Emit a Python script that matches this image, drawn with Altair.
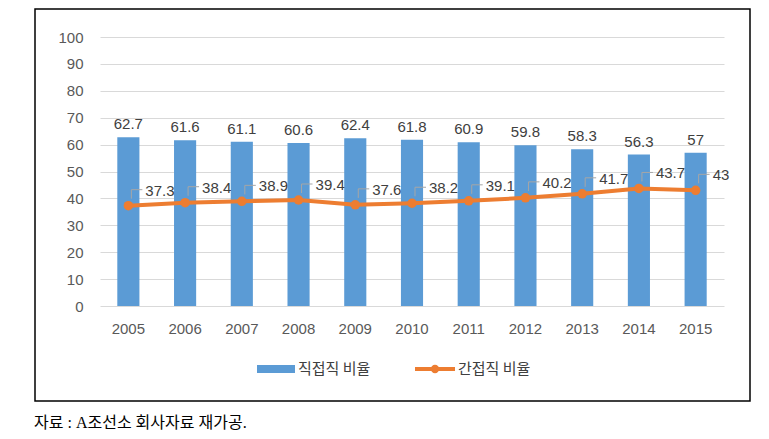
import altair as alt
import pandas as pd

years = ["2005", "2006", "2007", "2008", "2009", "2010", "2011", "2012", "2013", "2014", "2015"]
direct = [62.7, 61.6, 61.1, 60.6, 62.4, 61.8, 60.9, 59.8, 58.3, 56.3, 57]
indirect = [37.3, 38.4, 38.9, 39.4, 37.6, 38.2, 39.1, 40.2, 41.7, 43.7, 43]
series_names = ["직접직 비율", "간접직 비율"]
caption_text = ["자료 : A조선소 회사자료 재가공."]
y_ticks = [0, 10, 20, 30, 40, 50, 60, 70, 80, 90, 100]

BLUE = "#5B9BD5"
ORANGE = "#ED7D31"
NUM_FONT = "Liberation Sans, Noto Sans CJK KR"
KR_FONT = "Noto Sans CJK KR"

df = pd.DataFrame({"year": years, "direct": direct, "indirect": indirect})
leg = pd.DataFrame({"name": [series_names[0]]})
leg2 = pd.DataFrame({"name": [series_names[1]]})
cap = pd.DataFrame({"t": caption_text})

x_axis = alt.Axis(labelAngle=0, ticks=False, domain=False, grid=False,
                  labelPadding=15, labelFontSize=15, labelColor="#595959",
                  labelFont=NUM_FONT, labelOverlap=False)
x_scale = alt.Scale(paddingInner=0.61, paddingOuter=0.305)
y_axis = alt.Axis(values=y_ticks, tickCount=11, ticks=False, domain=False, labelPadding=17,
                  labelFontSize=15, labelColor="#595959", labelFont=NUM_FONT,
                  labelOverlap=False, gridColor="#d9d9d9", gridWidth=1.2)
y_scale = alt.Scale(domain=[0, 100], nice=False)


def X():
    return alt.X("year:O", sort=years, title=None, scale=x_scale, axis=x_axis)


def Y(field):
    return alt.Y(field, scale=y_scale, title=None, axis=y_axis)


base = alt.Chart(df)

bars = base.mark_bar(color=BLUE).encode(x=X(), y=Y("direct:Q"))
bar_labels = base.mark_text(baseline="bottom", dy=-5, fontSize=15, color="#404040",
                            font=NUM_FONT).encode(x=X(), y=Y("direct:Q"), text="direct:Q")

line = base.mark_line(color=ORANGE, strokeWidth=4).encode(x=X(), y=Y("indirect:Q"))
pts = base.mark_circle(color=ORANGE, size=90, opacity=1).encode(x=X(), y=Y("indirect:Q"))

lead_v = base.mark_rule(color="#a6a6a6", strokeWidth=1, xOffset=3, yOffset=-7,
                        y2Offset=-16).encode(x=X(), y=Y("indirect:Q"), y2="indirect:Q")
lead_h = base.mark_rule(color="#a6a6a6", strokeWidth=1, xOffset=3, x2Offset=14,
                        yOffset=-16, y2Offset=-16).encode(
    x=X(), x2="year:O", y=Y("indirect:Q"))
line_labels = base.mark_text(align="left", baseline="middle", dx=17, dy=-15,
                             fontSize=15, color="#404040", font=NUM_FONT).encode(
    x=X(), y=Y("indirect:Q"), text="indirect:Q")

# legend
leg_rect = alt.Chart(leg).mark_rect(color=BLUE).encode(
    x=alt.value(157), x2=alt.value(195), y=alt.value(328), y2=alt.value(336))
leg_text1 = alt.Chart(leg).mark_text(align="left", baseline="middle", fontSize=15,
                                     font=KR_FONT, color="#404040").encode(
    x=alt.value(198), y=alt.value(332), text="name:N")
leg_line = alt.Chart(leg2).mark_rule(color=ORANGE, strokeWidth=4).encode(
    x=alt.value(315), x2=alt.value(355), y=alt.value(332))
leg_pt = alt.Chart(leg2).mark_circle(color=ORANGE, size=70, opacity=1).encode(
    x=alt.value(335), y=alt.value(332))
leg_text2 = alt.Chart(leg2).mark_text(align="left", baseline="middle", fontSize=15,
                                      font=KR_FONT, color="#404040").encode(
    x=alt.value(358), y=alt.value(332), text="name:N")

frame = alt.Chart(leg).mark_rect(fill=None, stroke="black", strokeWidth=1.5).encode(
    x=alt.value(-65), x2=alt.value(650), y=alt.value(-28), y2=alt.value(364))

caption = alt.Chart(cap).mark_text(align="left", baseline="alphabetic", fontSize=16,
                                   font="Liberation Serif, Noto Sans CJK KR",
                                   color="black").encode(
    x=alt.value(-66), y=alt.value(391), text="t:N")

chart = alt.layer(
    frame, bars, bar_labels, line, pts, lead_v, lead_h, line_labels,
    leg_rect, leg_text1, leg_line, leg_pt, leg_text2, caption
).properties(
    width=624, height=269,
    autosize=alt.AutoSizeParams(type="none"),
    padding={"left": 92, "top": 29, "right": 37, "bottom": 124},
).configure_view(stroke=None)

chart.save("out.html", embed_options={"renderer": "svg", "actions": False})
